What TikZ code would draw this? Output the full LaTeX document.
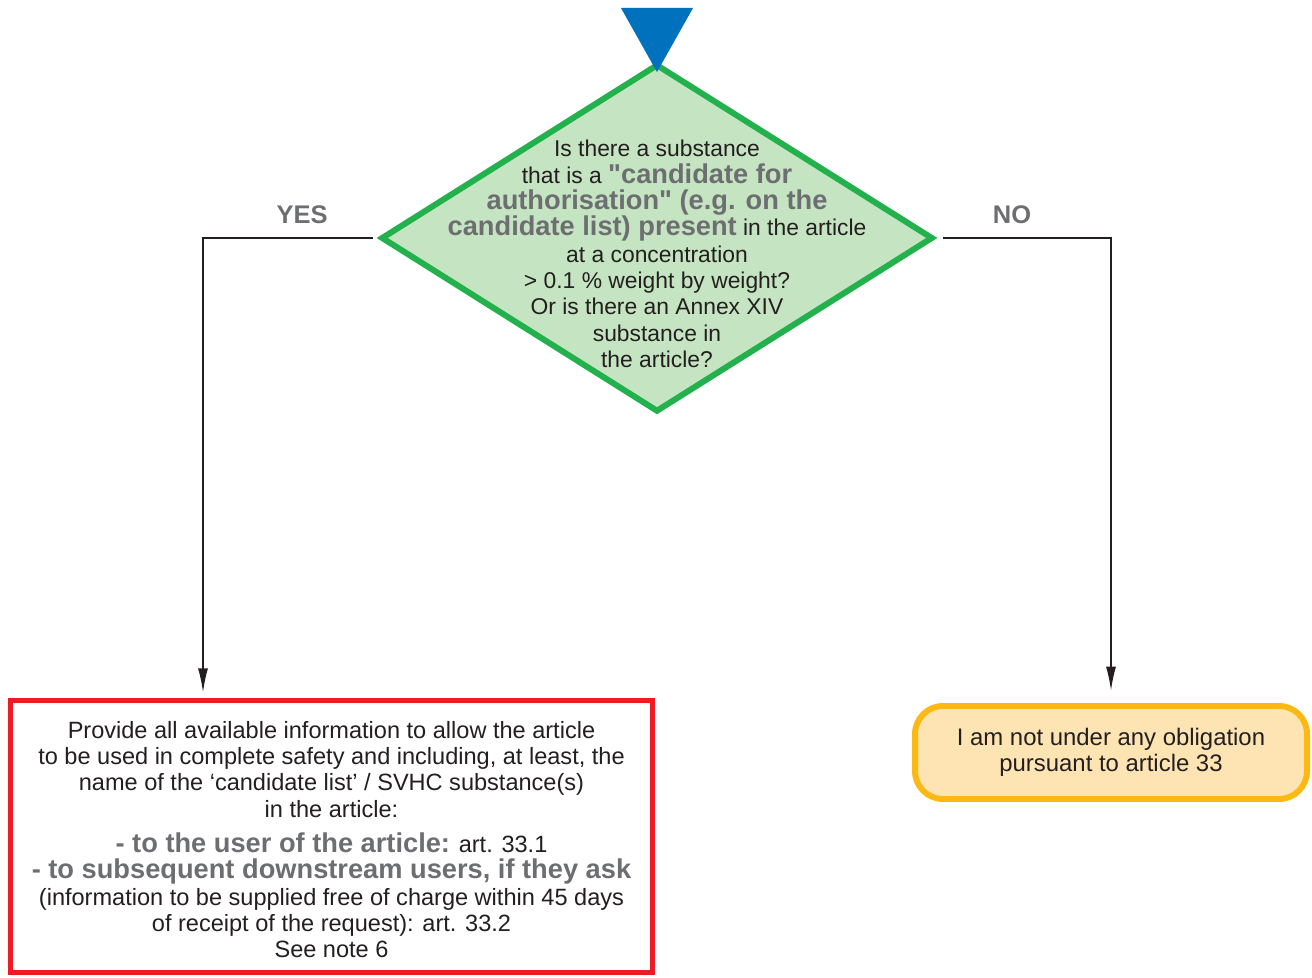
\documentclass[tikz,border=0pt]{standalone}
\usepackage{fontspec}
\setmainfont{Liberation Sans}
\usepackage{tikz}
\usetikzlibrary{shapes,arrows.meta,positioning}

\definecolor{txtdark}{HTML}{231F20}
\definecolor{hlgray}{HTML}{6D6E71}
\definecolor{qgreen}{HTML}{22B14C}
\definecolor{qfill}{HTML}{C5E4C1}
\definecolor{qblue}{HTML}{0071BC}
\definecolor{yesred}{HTML}{ED1C24}
\definecolor{noorange}{HTML}{FDB913}
\definecolor{nofill}{HTML}{FEE4B3}

\newcommand{\hl}[1]{{\fontsize{15.5}{15}\selectfont\color{hlgray}\bfseries #1}}

\begin{document}
\begin{tikzpicture}[
  every node/.style={text=txtdark, align=center, font=\fontsize{13}{15}\selectfont},
  flow/.style={draw=txtdark, line width=0.85pt, -{Latex[length=0.48cm,width=0.2cm]}},
  answer/.style={text=hlgray, font=\fontsize{14.5}{16}\selectfont\bfseries}]
\useasboundingbox (0,0) rectangle (26.24,19.54);

% Question
\node[diamond, draw=qgreen, fill=qfill, line width=3.4pt, minimum width=11.04cm, minimum height=6.96cm, inner sep=0pt] (q) at (13.14,14.78) {};
\node (qtext) at (13.14,14.46) {Is there a substance\\that is a \hl{\textquotedbl candidate for}\\\hl{authorisation\textquotedbl{} (e.g. on the}\\\hl{candidate list) present} in the article\\at a concentration\\> 0.1 \% weight by weight?\\Or is there an Annex XIV\\substance in\\the article?};

% Entry
\fill[qblue] (12.42,19.38) -- (13.86,19.38) -- (13.14,18.10) -- cycle;

% Answers
\node[rectangle, draw=yesred, fill=white, line width=3.2pt, minimum width=12.84cm, minimum height=5.44cm] (yesbox) at (6.63,2.81) {};
\node[font=\fontsize{13.4}{15}\selectfont] (yestext) at (6.63,2.75) {Provide all available information to allow the article\\to be used in complete safety and including, at least, the\\name of the `candidate list' / SVHC substance(s)\\in the article:\\[5pt]\hl{- to the user of the article:} art. 33.1\\\hl{- to subsequent downstream users, if they ask}\\(information to be supplied free of charge within 45 days\\of receipt of the request): art. 33.2\\See note 6};

\node[rectangle, rounded corners=0.56cm, draw=noorange, fill=nofill, line width=3.4pt, minimum width=7.84cm, minimum height=1.86cm, font=\fontsize{13.6}{15}\selectfont] (nobox) at (22.22,4.49) {I am not under any obligation\\pursuant to article 33};

% Connectors
\coordinate (yesbend) at (4.06,14.78);
\draw[flow, shorten <=3pt, shorten >=3pt] (q.west) -- (yesbend) -- (yesbend |- yesbox.north);
\draw[flow, shorten <=4pt, shorten >=7pt] (q.east) -| (nobox.north);
\node[answer] (yes) at (6.04,15.24) {YES};
\node[answer] (no) at (20.24,15.24) {NO};
\end{tikzpicture}
\end{document}
